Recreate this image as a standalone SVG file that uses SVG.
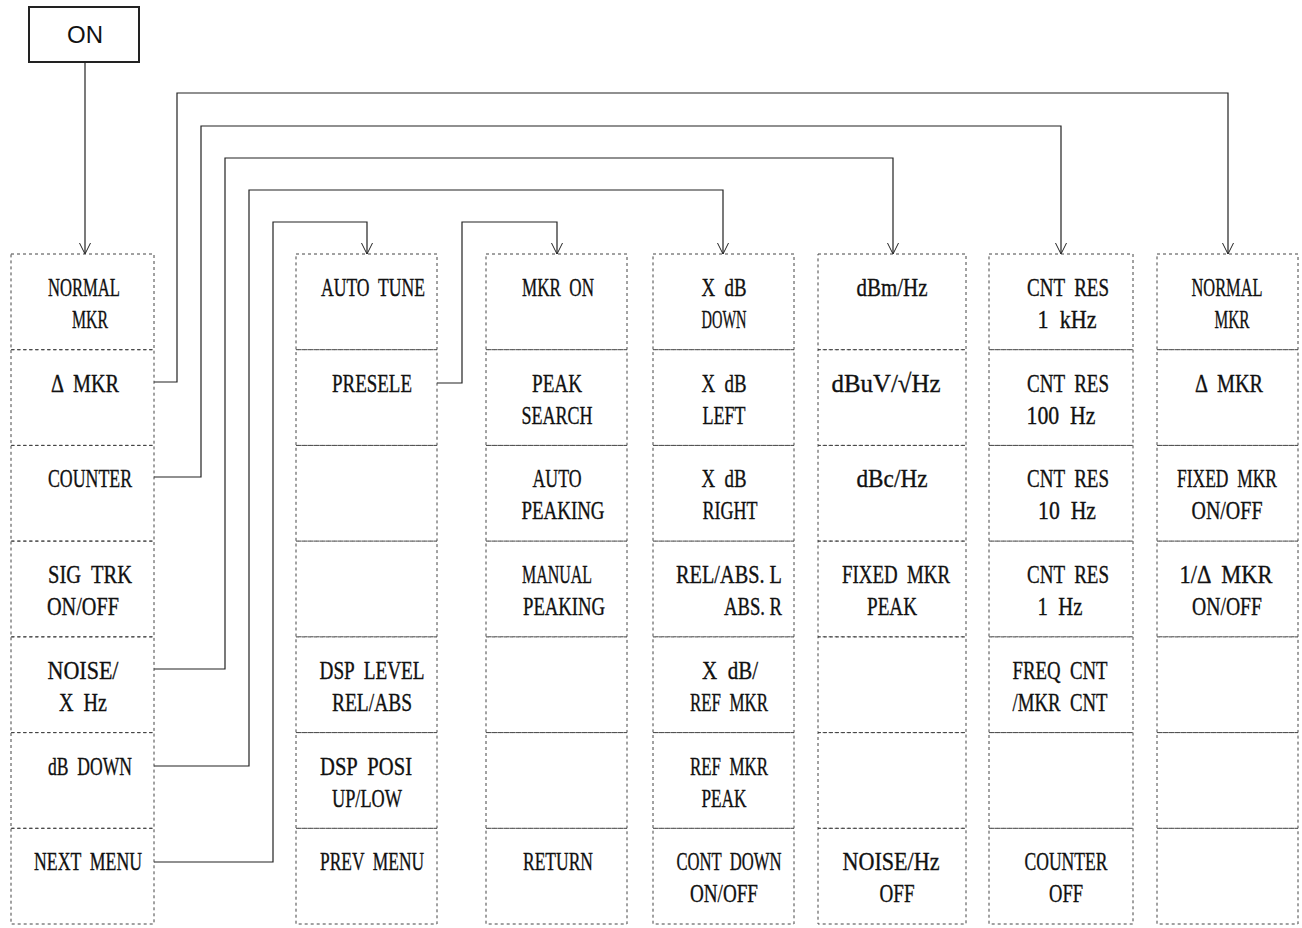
<svg xmlns="http://www.w3.org/2000/svg" width="1302" height="928" viewBox="0 0 1302 928">
<defs>
<style>
.bg{fill:#fff}
.cell{fill:none;stroke:#444;stroke-width:1;stroke-dasharray:3 3}
.on{fill:#fff;stroke:#222;stroke-width:2}
.ont{font-family:"Liberation Sans",Arial,sans-serif;font-size:24px;fill:#111;text-anchor:middle}
.t{font-family:"Liberation Serif","Times New Roman",serif;font-size:26px;fill:#111;stroke:#111;stroke-width:0.35;text-anchor:middle;white-space:pre}
.conn{fill:none;stroke:#222;stroke-width:1.2}
</style>
<marker id="arr" viewBox="0 0 12 12" refX="11" refY="6" markerWidth="12" markerHeight="12" orient="auto" markerUnits="userSpaceOnUse">
<path d="M0,0.5 L11,6 L0,11.5" fill="none" stroke="#222" stroke-width="1"/>
</marker>
</defs>
<rect class="bg" x="0" y="0" width="1302" height="928"/>

<g id="connectors">
<path class="conn" d="M85,62 V254" marker-end="url(#arr)"/>
<path class="conn" d="M154,382 H177 V93 H1228 V254" marker-end="url(#arr)"/>
<path class="conn" d="M154,477 H201 V126 H1061 V254" marker-end="url(#arr)"/>
<path class="conn" d="M154,669 H225 V158 H893 V254" marker-end="url(#arr)"/>
<path class="conn" d="M154,766 H249 V190 H723 V254" marker-end="url(#arr)"/>
<path class="conn" d="M154,862 H273 V222 H367 V254" marker-end="url(#arr)"/>
<path class="conn" d="M437,383 H462 V222 H557 V254" marker-end="url(#arr)"/>
</g>

<g id="on">
<rect class="on" x="29" y="7" width="110" height="55"/>
<text class="ont" x="85" y="43">ON</text>
</g>

<!-- Column 1 -->
<g id="c1r1"><rect class="cell" x="11" y="254" width="143" height="95.7"/>
<text class="t" x="84" y="296" textLength="72" lengthAdjust="spacingAndGlyphs">NORMAL</text>
<text class="t" x="90" y="328" textLength="36" lengthAdjust="spacingAndGlyphs">MKR</text></g>
<g id="c1r2"><rect class="cell" x="11" y="349.7" width="143" height="95.7"/>
<text class="t" x="85" y="392" textLength="68" lengthAdjust="spacingAndGlyphs">Δ  MKR</text></g>
<g id="c1r3"><rect class="cell" x="11" y="445.4" width="143" height="95.7"/>
<text class="t" x="90" y="487" textLength="84" lengthAdjust="spacingAndGlyphs">COUNTER</text></g>
<g id="c1r4"><rect class="cell" x="11" y="541.1" width="143" height="95.7"/>
<text class="t" x="90" y="583" textLength="84" lengthAdjust="spacingAndGlyphs">SIG  TRK</text>
<text class="t" x="83" y="615" textLength="72" lengthAdjust="spacingAndGlyphs">ON/OFF</text></g>
<g id="c1r5"><rect class="cell" x="11" y="636.9" width="143" height="95.7"/>
<text class="t" x="83" y="679" textLength="71" lengthAdjust="spacingAndGlyphs">NOISE/</text>
<text class="t" x="83" y="711" textLength="48" lengthAdjust="spacingAndGlyphs">X  Hz</text></g>
<g id="c1r6"><rect class="cell" x="11" y="732.6" width="143" height="95.7"/>
<text class="t" x="90" y="775" textLength="84" lengthAdjust="spacingAndGlyphs">dB  DOWN</text></g>
<g id="c1r7"><rect class="cell" x="11" y="828.3" width="143" height="95.7"/>
<text class="t" x="88" y="870" textLength="108" lengthAdjust="spacingAndGlyphs">NEXT  MENU</text></g>

<!-- Column 2 -->
<g id="c2r1"><rect class="cell" x="296" y="254" width="141" height="95.7"/>
<text class="t" x="373" y="296" textLength="104" lengthAdjust="spacingAndGlyphs">AUTO  TUNE</text></g>
<g id="c2r2"><rect class="cell" x="296" y="349.7" width="141" height="95.7"/>
<text class="t" x="372" y="392" textLength="80" lengthAdjust="spacingAndGlyphs">PRESELE</text></g>
<g id="c2r3"><rect class="cell" x="296" y="445.4" width="141" height="95.7"/></g>
<g id="c2r4"><rect class="cell" x="296" y="541.1" width="141" height="95.7"/></g>
<g id="c2r5"><rect class="cell" x="296" y="636.9" width="141" height="95.7"/>
<text class="t" x="372" y="679" textLength="105" lengthAdjust="spacingAndGlyphs">DSP  LEVEL</text>
<text class="t" x="372" y="711" textLength="80" lengthAdjust="spacingAndGlyphs">REL/ABS</text></g>
<g id="c2r6"><rect class="cell" x="296" y="732.6" width="141" height="95.7"/>
<text class="t" x="366" y="775" textLength="92" lengthAdjust="spacingAndGlyphs">DSP  POSI</text>
<text class="t" x="367" y="807" textLength="70" lengthAdjust="spacingAndGlyphs">UP/LOW</text></g>
<g id="c2r7"><rect class="cell" x="296" y="828.3" width="141" height="95.7"/>
<text class="t" x="372" y="870" textLength="104" lengthAdjust="spacingAndGlyphs">PREV  MENU</text></g>

<!-- Column 3 -->
<g id="c3r1"><rect class="cell" x="486" y="254" width="141" height="95.7"/>
<text class="t" x="558" y="296" textLength="72" lengthAdjust="spacingAndGlyphs">MKR  ON</text></g>
<g id="c3r2"><rect class="cell" x="486" y="349.7" width="141" height="95.7"/>
<text class="t" x="557" y="392" textLength="50" lengthAdjust="spacingAndGlyphs">PEAK</text>
<text class="t" x="557" y="424" textLength="71" lengthAdjust="spacingAndGlyphs">SEARCH</text></g>
<g id="c3r3"><rect class="cell" x="486" y="445.4" width="141" height="95.7"/>
<text class="t" x="557" y="487" textLength="49" lengthAdjust="spacingAndGlyphs">AUTO</text>
<text class="t" x="563" y="519" textLength="83" lengthAdjust="spacingAndGlyphs">PEAKING</text></g>
<g id="c3r4"><rect class="cell" x="486" y="541.1" width="141" height="95.7"/>
<text class="t" x="557" y="583" textLength="70" lengthAdjust="spacingAndGlyphs">MANUAL</text>
<text class="t" x="564" y="615" textLength="82" lengthAdjust="spacingAndGlyphs">PEAKING</text></g>
<g id="c3r5"><rect class="cell" x="486" y="636.9" width="141" height="95.7"/></g>
<g id="c3r6"><rect class="cell" x="486" y="732.6" width="141" height="95.7"/></g>
<g id="c3r7"><rect class="cell" x="486" y="828.3" width="141" height="95.7"/>
<text class="t" x="558" y="870" textLength="70" lengthAdjust="spacingAndGlyphs">RETURN</text></g>

<!-- Column 4 -->
<g id="c4r1"><rect class="cell" x="653" y="254" width="141" height="95.7"/>
<text class="t" x="724" y="296" textLength="45" lengthAdjust="spacingAndGlyphs">X  dB</text>
<text class="t" x="724" y="328" textLength="45" lengthAdjust="spacingAndGlyphs">DOWN</text></g>
<g id="c4r2"><rect class="cell" x="653" y="349.7" width="141" height="95.7"/>
<text class="t" x="724" y="392" textLength="45" lengthAdjust="spacingAndGlyphs">X  dB</text>
<text class="t" x="724" y="424" textLength="43" lengthAdjust="spacingAndGlyphs">LEFT</text></g>
<g id="c4r3"><rect class="cell" x="653" y="445.4" width="141" height="95.7"/>
<text class="t" x="724" y="487" textLength="45" lengthAdjust="spacingAndGlyphs">X  dB</text>
<text class="t" x="730" y="519" textLength="55" lengthAdjust="spacingAndGlyphs">RIGHT</text></g>
<g id="c4r4"><rect class="cell" x="653" y="541.1" width="141" height="95.7"/>
<text class="t" x="729" y="583" textLength="106" lengthAdjust="spacingAndGlyphs">REL/ABS. L</text>
<text class="t" x="753" y="615" textLength="58" lengthAdjust="spacingAndGlyphs">ABS. R</text></g>
<g id="c4r5"><rect class="cell" x="653" y="636.9" width="141" height="95.7"/>
<text class="t" x="730" y="679" textLength="56" lengthAdjust="spacingAndGlyphs">X  dB/</text>
<text class="t" x="729" y="711" textLength="78" lengthAdjust="spacingAndGlyphs">REF  MKR</text></g>
<g id="c4r6"><rect class="cell" x="653" y="732.6" width="141" height="95.7"/>
<text class="t" x="729" y="775" textLength="78" lengthAdjust="spacingAndGlyphs">REF  MKR</text>
<text class="t" x="724" y="807" textLength="45" lengthAdjust="spacingAndGlyphs">PEAK</text></g>
<g id="c4r7"><rect class="cell" x="653" y="828.3" width="141" height="95.7"/>
<text class="t" x="729" y="870" textLength="105" lengthAdjust="spacingAndGlyphs">CONT  DOWN</text>
<text class="t" x="724" y="902" textLength="68" lengthAdjust="spacingAndGlyphs">ON/OFF</text></g>

<!-- Column 5 -->
<g id="c5r1"><rect class="cell" x="818" y="254" width="148" height="95.7"/>
<text class="t" x="892" y="296" textLength="71" lengthAdjust="spacingAndGlyphs">dBm/Hz</text></g>
<g id="c5r2"><rect class="cell" x="818" y="349.7" width="148" height="95.7"/>
<text class="t" x="886" y="392" textLength="109" lengthAdjust="spacingAndGlyphs">dBuV/√Hz</text></g>
<g id="c5r3"><rect class="cell" x="818" y="445.4" width="148" height="95.7"/>
<text class="t" x="892" y="487" textLength="71" lengthAdjust="spacingAndGlyphs">dBc/Hz</text></g>
<g id="c5r4"><rect class="cell" x="818" y="541.1" width="148" height="95.7"/>
<text class="t" x="896" y="583" textLength="108" lengthAdjust="spacingAndGlyphs">FIXED  MKR</text>
<text class="t" x="892" y="615" textLength="50" lengthAdjust="spacingAndGlyphs">PEAK</text></g>
<g id="c5r5"><rect class="cell" x="818" y="636.9" width="148" height="95.7"/></g>
<g id="c5r6"><rect class="cell" x="818" y="732.6" width="148" height="95.7"/></g>
<g id="c5r7"><rect class="cell" x="818" y="828.3" width="148" height="95.7"/>
<text class="t" x="891" y="870" textLength="97" lengthAdjust="spacingAndGlyphs">NOISE/Hz</text>
<text class="t" x="897" y="902" textLength="35" lengthAdjust="spacingAndGlyphs">OFF</text></g>

<!-- Column 6 -->
<g id="c6r1"><rect class="cell" x="989" y="254" width="144" height="95.7"/>
<text class="t" x="1068" y="296" textLength="82" lengthAdjust="spacingAndGlyphs">CNT  RES</text>
<text class="t" x="1067" y="328" textLength="59" lengthAdjust="spacingAndGlyphs">1  kHz</text></g>
<g id="c6r2"><rect class="cell" x="989" y="349.7" width="144" height="95.7"/>
<text class="t" x="1068" y="392" textLength="82" lengthAdjust="spacingAndGlyphs">CNT  RES</text>
<text class="t" x="1061" y="424" textLength="69" lengthAdjust="spacingAndGlyphs">100  Hz</text></g>
<g id="c6r3"><rect class="cell" x="989" y="445.4" width="144" height="95.7"/>
<text class="t" x="1068" y="487" textLength="82" lengthAdjust="spacingAndGlyphs">CNT  RES</text>
<text class="t" x="1067" y="519" textLength="58" lengthAdjust="spacingAndGlyphs">10  Hz</text></g>
<g id="c6r4"><rect class="cell" x="989" y="541.1" width="144" height="95.7"/>
<text class="t" x="1068" y="583" textLength="82" lengthAdjust="spacingAndGlyphs">CNT  RES</text>
<text class="t" x="1060" y="615" textLength="45" lengthAdjust="spacingAndGlyphs">1  Hz</text></g>
<g id="c6r5"><rect class="cell" x="989" y="636.9" width="144" height="95.7"/>
<text class="t" x="1060" y="679" textLength="95" lengthAdjust="spacingAndGlyphs">FREQ  CNT</text>
<text class="t" x="1060" y="711" textLength="95" lengthAdjust="spacingAndGlyphs">/MKR  CNT</text></g>
<g id="c6r6"><rect class="cell" x="989" y="732.6" width="144" height="95.7"/></g>
<g id="c6r7"><rect class="cell" x="989" y="828.3" width="144" height="95.7"/>
<text class="t" x="1066" y="870" textLength="83" lengthAdjust="spacingAndGlyphs">COUNTER</text>
<text class="t" x="1066" y="902" textLength="34" lengthAdjust="spacingAndGlyphs">OFF</text></g>

<!-- Column 7 -->
<g id="c7r1"><rect class="cell" x="1157" y="254" width="141" height="95.7"/>
<text class="t" x="1227" y="296" textLength="71" lengthAdjust="spacingAndGlyphs">NORMAL</text>
<text class="t" x="1232" y="328" textLength="35" lengthAdjust="spacingAndGlyphs">MKR</text></g>
<g id="c7r2"><rect class="cell" x="1157" y="349.7" width="141" height="95.7"/>
<text class="t" x="1229" y="392" textLength="68" lengthAdjust="spacingAndGlyphs">Δ  MKR</text></g>
<g id="c7r3"><rect class="cell" x="1157" y="445.4" width="141" height="95.7"/>
<text class="t" x="1227" y="487" textLength="100" lengthAdjust="spacingAndGlyphs">FIXED  MKR</text>
<text class="t" x="1227" y="519" textLength="71" lengthAdjust="spacingAndGlyphs">ON/OFF</text></g>
<g id="c7r4"><rect class="cell" x="1157" y="541.1" width="141" height="95.7"/>
<text class="t" x="1226" y="583" textLength="93" lengthAdjust="spacingAndGlyphs">1/Δ  MKR</text>
<text class="t" x="1227" y="615" textLength="70" lengthAdjust="spacingAndGlyphs">ON/OFF</text></g>
<g id="c7r5"><rect class="cell" x="1157" y="636.9" width="141" height="95.7"/></g>
<g id="c7r6"><rect class="cell" x="1157" y="732.6" width="141" height="95.7"/></g>
<g id="c7r7"><rect class="cell" x="1157" y="828.3" width="141" height="95.7"/></g>
</svg>
